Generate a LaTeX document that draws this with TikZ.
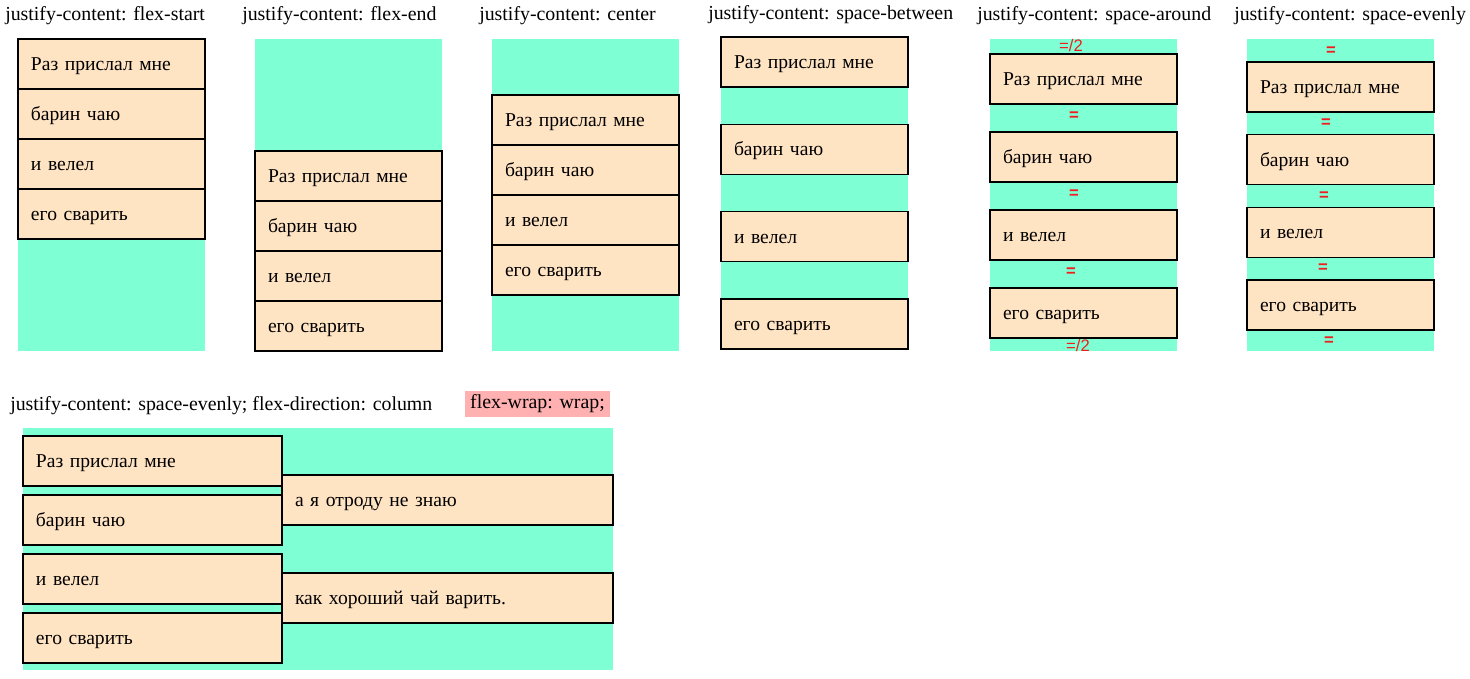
\documentclass[tikz,border=0pt]{standalone}
\usepackage{fontspec}
\setmainfont{Liberation Serif}
\newfontfamily\markfont{Liberation Sans}
\usepackage{tikz}
\usetikzlibrary{positioning}
\usepackage{xcolor}
\definecolor{aquamarine}{RGB}{127, 255, 212}
\definecolor{bisque}{RGB}{255, 228, 196}
\definecolor{wrappink}{RGB}{255, 176, 176}
\definecolor{markred}{RGB}{240, 30, 30}
\tikzset{
    flex box/.style={
        rectangle,
        fill=aquamarine,
        inner sep=0pt,
        outer sep=0pt,
        anchor=north west
    },
    flex item/.style={
        rectangle,
        draw=black,
        line width=1pt,
        fill=bisque,
        anchor=north west,
        minimum height=37.5pt,
        text width=120.75pt,
        text height=11.4pt,
        text depth=1.6pt,
        inner xsep=9.75pt,
        inner ysep=0pt,
        outer sep=0pt,
        align=left,
        font=\fontsize{14.7}{17}\selectfont
    },
    wide item/.style={
        flex item,
        text width=174.75pt
    },
    wider item/.style={
        flex item,
        text width=228.75pt
    },
    caption/.style={
        anchor=base west,
        inner sep=0pt,
        font=\fontsize{14.9}{17}\selectfont
    },
    gap mark/.style={
        inner sep=0pt,
        text=markred,
        font=\markfont\fontsize{12.5}{14}\selectfont
    },
    even mark/.style={
        gap mark,
        font=\markfont\bfseries\fontsize{12.5}{14}\selectfont
    }
}

\begin{document}
\begin{tikzpicture}[x=0.75pt, y=-0.75pt]

\useasboundingbox (0, 0) rectangle (1470, 678);

% Titles
\node[caption] (t1) at (5, 21) {justify-content: flex-start};
\node[caption] (t2) at (242, 21) {justify-content: flex-end};
\node[caption] (t3) at (479, 21) {justify-content: center};
\node[caption] (t4) at (708, 19) {justify-content: space-between};
\node[caption] (t5) at (977, 21) {justify-content: space-around};
\node[caption] (t6) at (1234, 21) {justify-content: space-evenly};

% Containers
\node[flex box, minimum width=140.25pt, minimum height=234pt] (box1) at (18, 39) {};
\node[flex box, minimum width=140.25pt, minimum height=234pt] (box2) at (255, 39) {};
\node[flex box, minimum width=140.25pt, minimum height=234pt] (box3) at (492, 39) {};
\node[flex box, minimum width=140.25pt, minimum height=234pt] (box4) at (721, 37) {};
\node[flex box, minimum width=140.25pt, minimum height=234pt] (box5) at (990, 39) {};
\node[flex box, minimum width=140.25pt, minimum height=234pt] (box6) at (1247, 39) {};

% flex-start
\node[flex item] (a1) at (18, 39) {Раз прислал мне};
\node[flex item, below=0pt of a1] (a2) {барин чаю};
\node[flex item, below=0pt of a2] (a3) {и велел};
\node[flex item, below=0pt of a3] (a4) {его сварить};

% flex-end
\node[flex item] (b1) at (255, 151) {Раз прислал мне};
\node[flex item, below=0pt of b1] (b2) {барин чаю};
\node[flex item, below=0pt of b2] (b3) {и велел};
\node[flex item, below=0pt of b3] (b4) {его сварить};

% center
\node[flex item] (c1) at (492, 95) {Раз прислал мне};
\node[flex item, below=0pt of c1] (c2) {барин чаю};
\node[flex item, below=0pt of c2] (c3) {и велел};
\node[flex item, below=0pt of c3] (c4) {его сварить};

% space-between
\node[flex item] (d1) at (721, 37) {Раз прислал мне};
\node[flex item, below=28pt of d1] (d2) {барин чаю};
\node[flex item, below=28pt of d2] (d3) {и велел};
\node[flex item, below=28pt of d3] (d4) {его сварить};

% space-around
\node[flex item] (e1) at (990, 54) {Раз прислал мне};
\node[flex item, below=21pt of e1] (e2) {барин чаю};
\node[flex item, below=21pt of e2] (e3) {и велел};
\node[flex item, below=21pt of e3] (e4) {его сварить};

\node[gap mark] (e0m) at (1071, 46) {=/2};
\node[even mark] (e1m) at (1074, 116) {=};
\node[even mark] (e2m) at (1074, 194) {=};
\node[even mark] (e3m) at (1071, 272) {=};
\node[gap mark] (e4m) at (1078, 346) {=/2};

% space-evenly
\node[flex item] (f1) at (1247, 62) {Раз прислал мне};
\node[flex item, below=17pt of f1] (f2) {барин чаю};
\node[flex item, below=17pt of f2] (f3) {и велел};
\node[flex item, below=17pt of f3] (f4) {его сварить};

\node[even mark] (f0m) at (1331, 51) {=};
\node[even mark] (f1m) at (1326, 123) {=};
\node[even mark] (f2m) at (1324, 196) {=};
\node[even mark] (f3m) at (1323, 268) {=};
\node[even mark] (f4m) at (1329, 341) {=};

% Column direction with wrapping
\node[caption] (t7) at (10, 410) {justify-content: space-evenly; flex-direction: column};
\node[caption, anchor=center, fill=wrappink, minimum width=108.75pt, minimum height=19.5pt]
     (wrap) at (537.5, 404) {flex-wrap: wrap;};

\node[flex box, minimum width=442.5pt, minimum height=181.5pt] (box7) at (23, 428) {};

\node[wide item] (w1) at (23, 436) {Раз прислал мне};
\node[wide item, below=6.75pt of w1] (w2) {барин чаю};
\node[wide item, below=6.75pt of w2] (w3) {и велел};
\node[wide item, below=6.75pt of w3] (w4) {его сварить};

\node[wider item] (w5) at (282, 475) {а я отроду не знаю};
\node[wider item, below=36pt of w5] (w6) {как хороший чай варить.};

\end{tikzpicture}
\end{document}
